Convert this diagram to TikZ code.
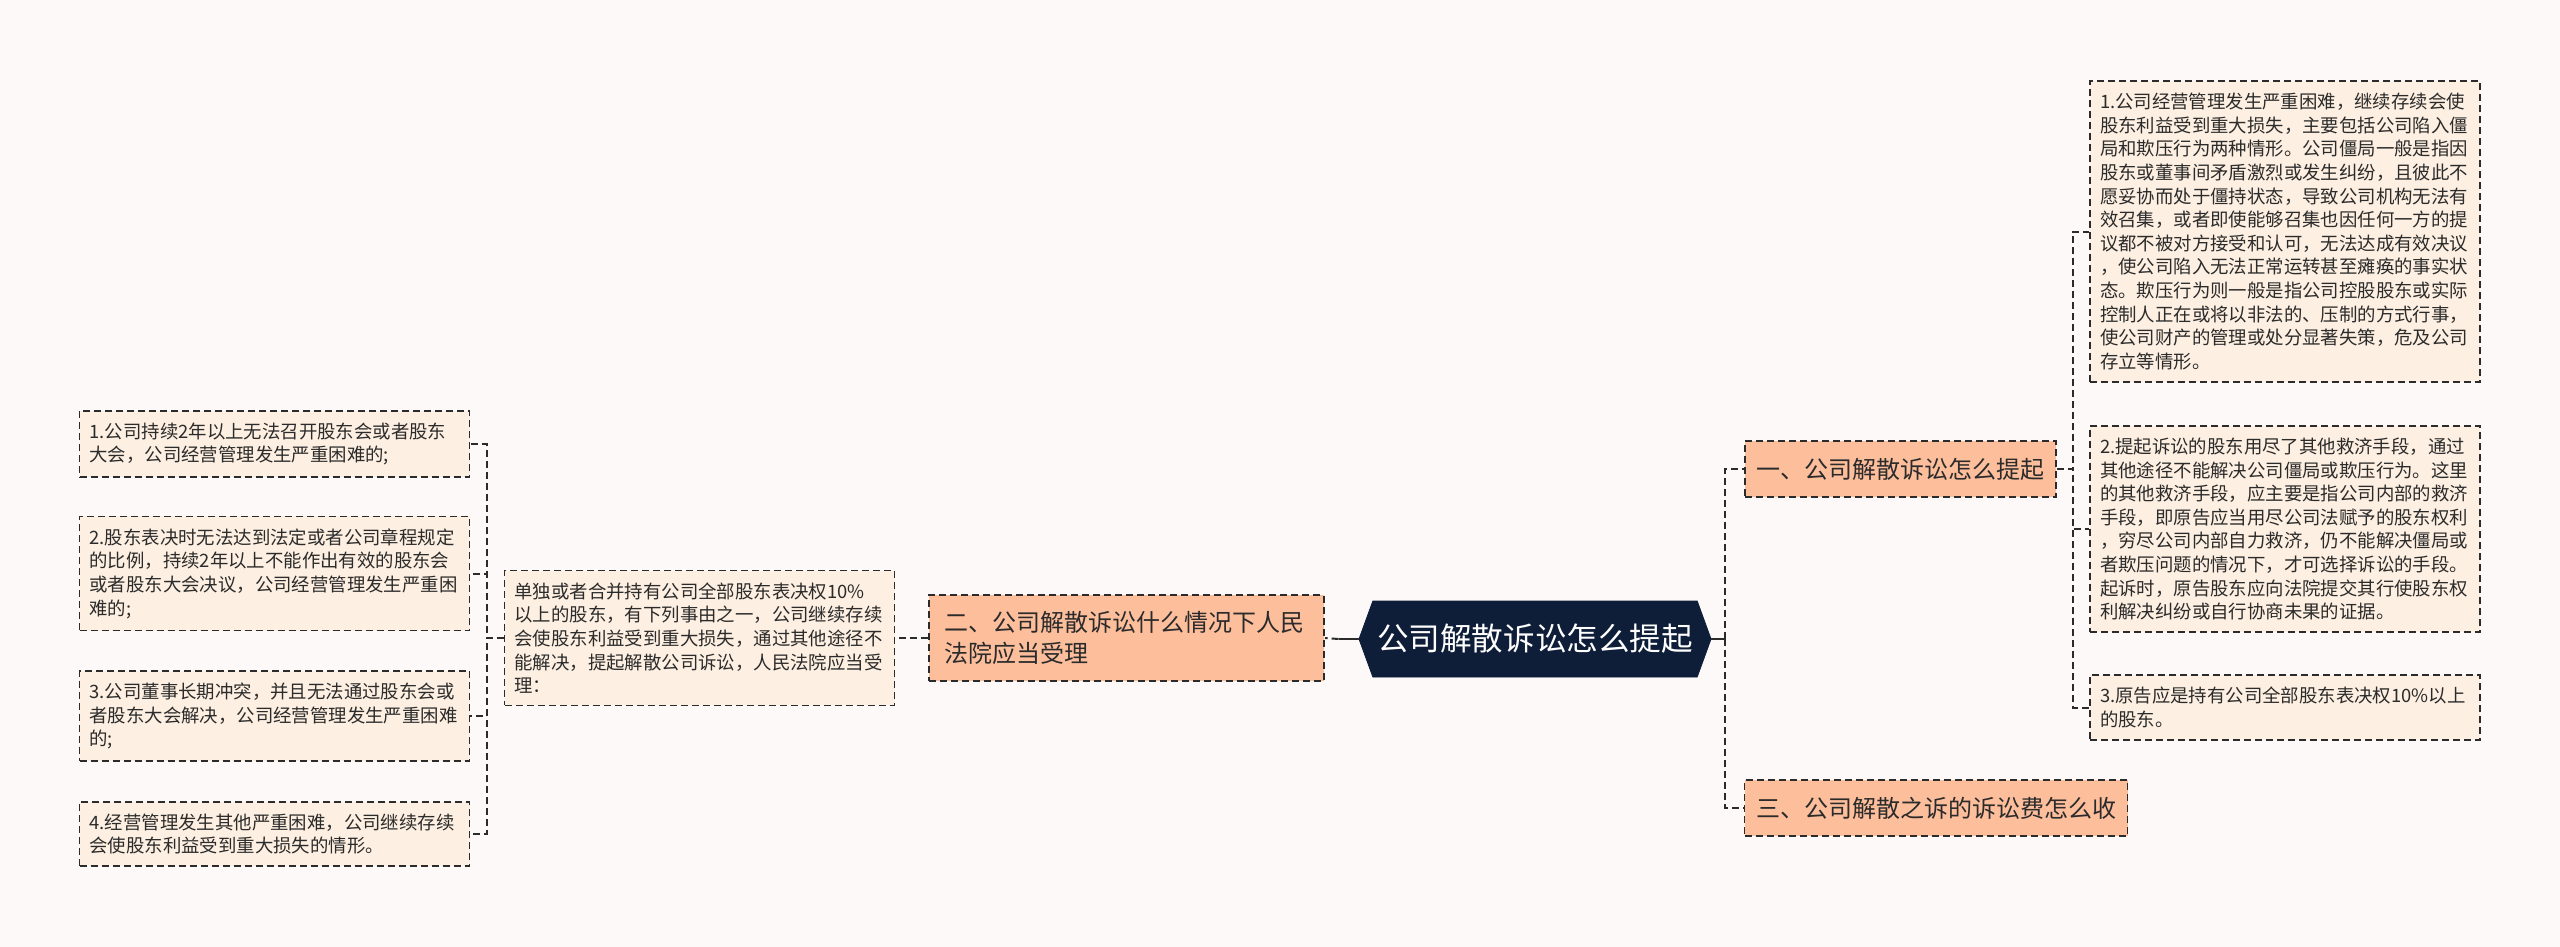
\documentclass[tikz,border=0pt]{standalone}
\usepackage{fontspec}
\setmainfont{Noto Sans CJK SC}
\usepackage{tikz}
\usetikzlibrary{shapes.symbols}
\definecolor{paper}{HTML}{FCF9F8}
\definecolor{ink}{HTML}{2B2B2B}
\definecolor{navy}{HTML}{0F1E38}
\definecolor{salmon}{HTML}{FDBE9C}
\definecolor{cream}{HTML}{FDEFE1}
\tikzset{
  hub/.style={
    signal, signal to=west and east, signal pointer angle=140,
    fill=navy, draw=navy, text=white, font=\fontsize{15.8}{19}\selectfont,
    minimum width=176pt, minimum height=38pt, inner sep=0pt
  },
  topic/.style={
    draw=ink, fill=salmon, text=ink, rectangle, align=left,
    dash pattern=on 3.5pt off 2pt, line width=0.95pt,
    font=\fontsize{12}{15.5}\selectfont, inner xsep=5.75pt, minimum height=28pt
  },
  leaf/.style={
    draw=ink, fill=cream, text=ink, rectangle, align=left,
    dash pattern=on 3.5pt off 2pt, line width=0.95pt,
    font=\fontsize{9.2}{11.8}\selectfont, text width=185pt,
    inner xsep=5pt, inner ysep=6pt
  },
  link/.style={draw=ink, line width=1pt, dash pattern=on 3.5pt off 2pt},
  trunk/.style={draw=ink, line width=1pt},
}
\begin{document}
\begin{tikzpicture}[x=0.5pt, y=-0.5pt]
  \useasboundingbox[fill=paper] (0,0) rectangle (2560,947);

  \node[hub] (c) at (1535,639) {公司解散诉讼怎么提起};

  \node[topic] (n1) at (1900.5,469) {一、公司解散诉讼怎么提起};
  \node[topic] (n3) at (1936,808) {三、公司解散之诉的诉讼费怎么收};
  \node[topic, text width=182.5pt, inner xsep=7.5pt, inner ysep=8pt] (n2) at (1126.5,638)
    {二、公司解散诉讼什么情况下人民\\法院应当受理};

  \node[leaf] (r1) at (2285,231.5) {1.公司经营管理发生严重困难，继续存续会使\\
    股东利益受到重大损失，主要包括公司陷入僵\\
    局和欺压行为两种情形。公司僵局一般是指因\\
    股东或董事间矛盾激烈或发生纠纷，且彼此不\\
    愿妥协而处于僵持状态，导致公司机构无法有\\
    效召集，或者即使能够召集也因任何一方的提\\
    议都不被对方接受和认可，无法达成有效决议\\
    ，使公司陷入无法正常运转甚至瘫痪的事实状\\
    态。欺压行为则一般是指公司控股股东或实际\\
    控制人正在或将以非法的、压制的方式行事，\\
    使公司财产的管理或处分显著失策，危及公司\\
    存立等情形。};
  \node[leaf] (r2) at (2285,529) {2.提起诉讼的股东用尽了其他救济手段，通过\\
    其他途径不能解决公司僵局或欺压行为。这里\\
    的其他救济手段，应主要是指公司内部的救济\\
    手段，即原告应当用尽公司法赋予的股东权利\\
    ，穷尽公司内部自力救济，仍不能解决僵局或\\
    者欺压问题的情况下，才可选择诉讼的手段。\\
    起诉时，原告股东应向法院提交其行使股东权\\
    利解决纠纷或自行协商未果的证据。};
  \node[leaf] (r3) at (2285,707.5) {3.原告应是持有公司全部股东表决权10\%以上\\
    的股东。};

  \node[leaf] (d) at (699.5,638) {单独或者合并持有公司全部股东表决权10\%\\
    以上的股东，有下列事由之一，公司继续存续\\
    会使股东利益受到重大损失，通过其他途径不\\
    能解决，提起解散公司诉讼，人民法院应当受\\
    理：};

  \node[leaf] (l1) at (274.5,444) {1.公司持续2年以上无法召开股东会或者股东\\
    大会，公司经营管理发生严重困难的;};
  \node[leaf] (l2) at (274.5,573.5) {2.股东表决时无法达到法定或者公司章程规定\\
    的比例，持续2年以上不能作出有效的股东会\\
    或者股东大会决议，公司经营管理发生严重困\\
    难的;};
  \node[leaf] (l3) at (274.5,716) {3.公司董事长期冲突，并且无法通过股东会或\\
    者股东大会解决，公司经营管理发生严重困难\\
    的;};
  \node[leaf] (l4) at (274.5,834) {4.经营管理发生其他严重困难，公司继续存续\\
    会使股东利益受到重大损失的情形。};

  \draw[trunk] (c.east) -- ++(14,0) coordinate (cr);
  \foreach \t in {n1,n3} \draw[link] (cr) |- (\t.west);
  \draw[trunk] (c.west) -- ++(-20,0) coordinate (cl);
  \draw[link] (cl) -- (n2.east);
  \draw[link] (n2.west) -- (d.east);
  \foreach \t in {r1,r2,r3} \draw[link] (n1.east) -- ++(16,0) |- (\t.west);
  \foreach \t in {l1,l2,l3,l4} \draw[link] (d.west) -- ++(-17,0) |- (\t.east);
\end{tikzpicture}
\end{document}
